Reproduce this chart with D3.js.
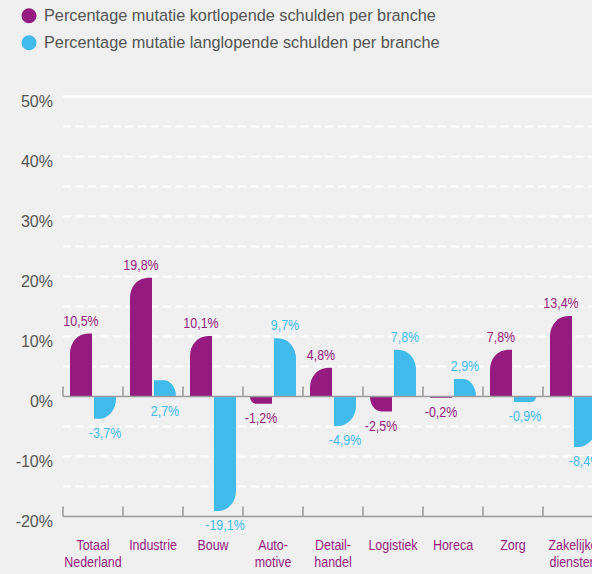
<!DOCTYPE html>
<html>
<head>
<meta charset="utf-8">
<script src="https://cdn.jsdelivr.net/npm/d3@7"></script>
<style>
  html, body { margin: 0; padding: 0; background: #f0f0f0; }
  svg { display: block; }
</style>
</head>
<body>
<svg width="592" height="574"></svg>
<script>
let categories = ["Totaal\nNederland", "Industrie", "Bouw", "Auto-\nmotive", "Detail-\nhandel", "Logistiek", "Horeca", "Zorg", "Zakelijke\ndiensten"];
let kortlopend = [10.5, 19.8, 10.1, -1.2, 4.8, -2.5, -0.2, 7.8, 13.4];
let langlopend = [-3.7, 2.7, -19.1, 9.7, -4.9, 7.8, 2.9, -0.9, -8.4];
let seriesNames = ["Percentage mutatie kortlopende schulden per branche", "Percentage mutatie langlopende schulden per branche"];
let yTicks = [-20, -10, 0, 10, 20, 30, 40, 50];

let purple = "#951b80";
let blue = "#40bbec";
let colors = [purple, blue];
let narrow = 0.83; // condensed look of the original font

let svg = d3.select("svg");

let x = d3.scaleBand().domain(d3.range(categories.length)).range([63, 603]);
let xInner = d3.scaleBand().domain([0, 1]).range([7, 53]).paddingInner(2 / 24);
let y = d3.scaleLinear().domain([-20, 50]).range([516.5, 96.5]);

let fmt = function (v) { return d3.format(".1f")(v).replace(".", ",").replace("\u2212", "-") + "%"; };

// gridlines
svg.append("g")
    .selectAll("line")
    .data(y.ticks(14).filter(function (d) { return d !== 0 && d !== -20; }))
    .join("line")
    .attr("x1", 63)
    .attr("x2", 592)
    .attr("y1", function (d) { return y(d); })
    .attr("y2", function (d) { return y(d); })
    .attr("stroke", "#fff")
    .attr("stroke-width", function (d) { return d === 50 ? 2.6 : 2.2; })
    .attr("stroke-dasharray", function (d) { return d === 50 ? null : "8,4.5"; });

// y labels
let yAxis = d3.axisLeft(y).tickValues(yTicks).tickSize(0).tickPadding(0).tickFormat(function (d) { return d + "%"; });
let yg = svg.append("g").attr("transform", "translate(53,0)").call(yAxis);
yg.select(".domain").remove();
yg.selectAll("text")
    .attr("dy", "10")
    .attr("fill", "#555")
    .style("font-family", "'Liberation Sans', Arial, sans-serif")
    .style("font-size", "16px");

// bars
let rows = [];
categories.forEach(function (c, i) {
    rows.push({ i: i, s: 0, v: kortlopend[i] });
    rows.push({ i: i, s: 1, v: langlopend[i] });
});

function barPath(d) {
    let x0 = x(d.i) + xInner(d.s);
    let w = xInner.bandwidth();
    let x1 = x0 + w;
    let b = y(0);
    let e = y(d.v);
    let h = Math.abs(e - b);
    let ry = Math.min(20, h);
    let rx = Math.min(18, h * 0.75);
    let dir = d.v >= 0 ? -1 : 1;
    let sweep = d.v >= 0 ? 1 : 0;
    if (d.s === 0) {
        // round outer-left corner
        return "M" + x0 + "," + b + "L" + x0 + "," + (e - dir * ry) +
            "A" + rx + "," + ry + " 0 0 " + sweep + " " + (x0 + rx) + "," + e +
            "L" + x1 + "," + e + "L" + x1 + "," + b + "Z";
    }
    return "M" + x0 + "," + b + "L" + x0 + "," + e + "L" + (x1 - rx) + "," + e +
        "A" + rx + "," + ry + " 0 0 " + sweep + " " + x1 + "," + (e - dir * ry) +
        "L" + x1 + "," + b + "Z";
}

svg.append("g")
    .selectAll("path")
    .data(rows)
    .join("path")
    .attr("d", barPath)
    .attr("fill", function (d) { return colors[d.s]; });

// axis lines with ticks
[0, -20].forEach(function (v) {
    let g = svg.append("g");
    g.append("line")
        .attr("x1", 63).attr("x2", 592)
        .attr("y1", y(v)).attr("y2", y(v))
        .attr("stroke", "#9a9a9a").attr("stroke-width", 1.5);
    g.selectAll(".tk")
        .data(d3.range(categories.length + 1))
        .join("line")
        .attr("x1", function (d) { return 63 + d * x.step(); })
        .attr("x2", function (d) { return 63 + d * x.step(); })
        .attr("y1", y(v) - 10)
        .attr("y2", y(v))
        .attr("stroke", "#9a9a9a").attr("stroke-width", 1.5);
});

// value labels
function labelBelow(d) {
    if (d.v < 0) return true;
    // small label goes under the axis when the neighbouring bar is in the way
    let other = d.s === 0 ? langlopend[d.i] : kortlopend[d.i];
    return y(d.v) - 8 > y(other) && d.v < 3 && other > 0;
}

svg.append("g")
    .selectAll("text")
    .data(rows)
    .join("text")
    .attr("transform", function (d) {
        let cx = x(d.i) + xInner(d.s) + xInner.bandwidth() / 2;
        let cy = labelBelow(d) ? Math.max(y(d.v), y(0)) + 19 : y(d.v) - 8;
        return "translate(" + cx + "," + cy + ") scale(" + narrow + ",1)";
    })
    .attr("text-anchor", "middle")
    .attr("fill", function (d) { return colors[d.s]; })
    .style("font-family", "'Liberation Sans', Arial, sans-serif")
    .style("font-size", "15px")
    .text(function (d) { return fmt(d.v); });

// category labels
svg.append("g")
    .selectAll("text")
    .data(categories)
    .join("text")
    .attr("transform", function (d, i) { return "translate(" + (x(i) + x.bandwidth() / 2) + ",550) scale(" + narrow + ",1)"; })
    .attr("text-anchor", "middle")
    .attr("fill", purple)
    .style("font-family", "'Liberation Sans', Arial, sans-serif")
    .style("font-size", "15px")
    .selectAll("tspan")
    .data(function (d) { return d.split("\n"); })
    .join("tspan")
    .attr("x", 0)
    .attr("dy", function (d, i) { return i === 0 ? 0 : 17; })
    .text(function (d) { return d; });

// legend
let legend = svg.append("g")
    .selectAll("g")
    .data(seriesNames)
    .join("g")
    .attr("transform", function (d, i) { return "translate(29," + (15.7 + i * 27) + ")"; });
legend.append("circle")
    .attr("r", 7.5)
    .attr("fill", function (d, i) { return colors[i]; });
legend.append("text")
    .attr("x", 15)
    .attr("y", 5.5)
    .attr("fill", "#555")
    .style("font-family", "'Liberation Sans', Arial, sans-serif")
    .style("font-size", "16.3px")
    .text(function (d) { return d; });
</script>
</body>
</html>
